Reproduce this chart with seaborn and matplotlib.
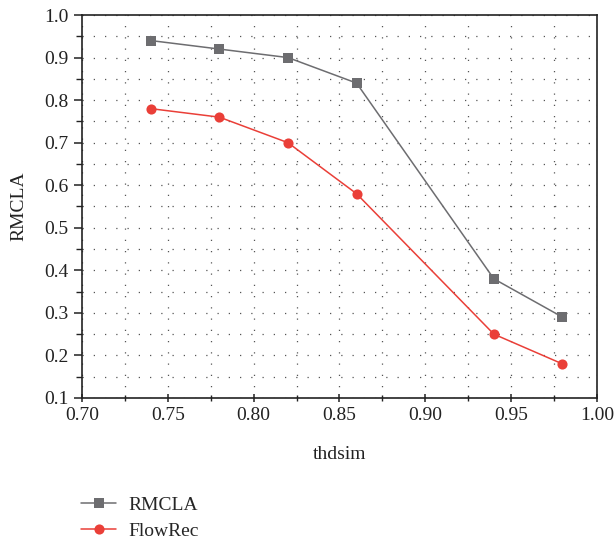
import pandas as pd
import matplotlib
matplotlib.use("Agg")
import matplotlib.pyplot as plt
from matplotlib.ticker import MultipleLocator
import seaborn as sns

# Данные с графика
thdsim = [0.74, 0.78, 0.82, 0.86, 0.94, 0.98]
rmcla = [0.94, 0.92, 0.90, 0.84, 0.38, 0.29]
flowrec = [0.78, 0.76, 0.70, 0.58, 0.25, 0.18]

df = pd.DataFrame({
    "thdsim": thdsim * 2,
    "value": rmcla + flowrec,
    "method": ["RMCLA"] * len(rmcla) + ["FlowRec"] * len(flowrec),
})

sns.set_style("ticks")
plt.rcParams["font.family"] = ["Liberation Serif", "DejaVu Serif"]

fig = plt.figure(figsize=(6.14, 5.4), dpi=100)
ax = fig.add_axes([0.1336, 0.263, 0.8384, 0.7092])

palette = {"RMCLA": "#6d6d70", "FlowRec": "#ea3f38"}
sns.lineplot(data=df, x="thdsim", y="value", hue="method", style="method",
             markers={"RMCLA": "s", "FlowRec": "o"}, dashes=False,
             palette=palette, markersize=6.6, markeredgewidth=0,
             linewidth=1.1, ax=ax)
# кружки чуть крупнее квадратов
for line in ax.lines:
    if line.get_marker() == "o":
        line.set_markersize(7.3)

ax.set_xlim(0.70, 1.00)
ax.set_ylim(0.1, 1.0)
ax.xaxis.set_major_locator(MultipleLocator(0.05))
ax.xaxis.set_minor_locator(MultipleLocator(0.025))
ax.yaxis.set_major_locator(MultipleLocator(0.1))
ax.yaxis.set_minor_locator(MultipleLocator(0.05))
ax.xaxis.set_major_formatter(plt.FormatStrFormatter("%.2f"))
ax.yaxis.set_major_formatter(plt.FormatStrFormatter("%.1f"))

ax.grid(True, which="both", color="#555555", linestyle=(0, (1, 8)), linewidth=0.9)
ax.set_axisbelow(True)

for s in ax.spines.values():
    s.set_color("#222222")
    s.set_linewidth(1.2)
ax.tick_params(axis="both", which="major", labelsize=14, length=6, width=1.1,
               colors="#222222", labelcolor="#222222")
ax.tick_params(axis="x", which="both", direction="inout")
ax.tick_params(axis="both", which="minor", length=4, width=1.0, colors="#222222")

ax.set_xlabel("thdsim", fontsize=14, color="#222222", labelpad=16)
ax.set_ylabel("RMCLA", fontsize=14, color="#222222", labelpad=12)

leg = ax.legend(loc="upper left", bbox_to_anchor=(-0.017, -0.237), frameon=False,
                fontsize=14, handlelength=1.8, handletextpad=0.65,
                labelspacing=0.4, borderaxespad=0)
for h in leg.legend_handles:
    if h.get_marker() == "o":
        h.set_markersize(7.3)

fig.savefig("out.png", dpi=100)
